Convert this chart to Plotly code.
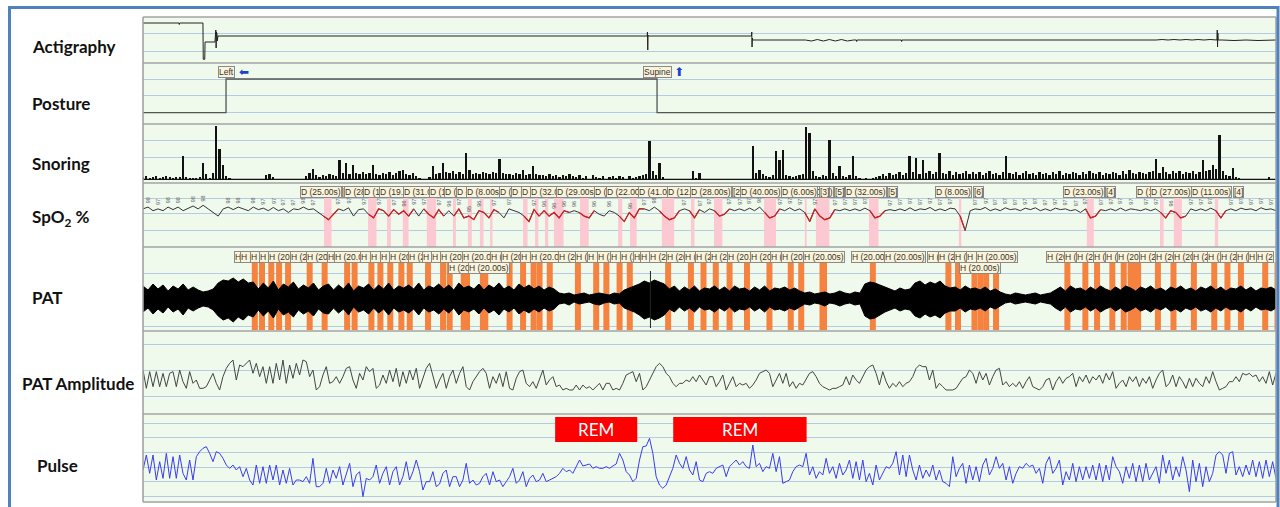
import numpy as np
import plotly.graph_objects as go

DURATION = 3780.0  # length of the displayed window, seconds

# ---------------- Actigraphy (activity level) ----------------
act_t = [0, 120, 121, 122, 200, 201, 206, 207, 240, 243, 244, 245, 246, 247, 248, 250,
         1682, 1683, 1684, 1685, 1686, 2030, 2031, 2032, 2033, 2034, 2210, 2230, 2250, 2270,
         2290, 2310, 2330, 2350, 2370, 2380, 2381, 2382, 2530, 2531, 2532, 3380, 3400, 3420,
         3440, 3460, 3480, 3500, 3520, 3540, 3560, 3583, 3584, 3585, 3586, 3587, 3600, 3640,
         3680, 3720, 3780]
act_v = [40, 40, 38.5, 40, 40, 3.7, 3.7, 21, 21, 33, 15, 31, 17, 29, 22, 27,
         27, 31, 13, 28, 27, 27, 31, 16, 25, 23, 23, 22, 23.5, 22,
         23.5, 22, 23.5, 22, 23, 23, 21.5, 23, 23, 21.5, 23, 23, 23.5, 23,
         23.5, 23, 23.5, 23, 23.5, 23, 23.5, 23, 33, 16, 30, 23, 23, 22.5,
         23, 22.5, 23]

# ---------------- Posture ----------------
posture_t = [0, 277, 1715]
posture_v = [1, 3, 1]
posture_label_t = [277, 1715]
posture_label = ["Left", "Supine"]
posture_arrow = ["\u2b05", "\u2b06"]

# ---------------- Snoring (intensity, sampled evenly over the window) ----------------
snore = [2, 3, 1, 2, 3, 1, 2, 3, 2, 1,
         2, 2, 23, 2, 1, 1, 1, 2, 16, 5,
         1, 6, 53, 30, 14, 3, 1, 0, 0, 0,
         0, 0, 0, 0, 0, 0, 0, 4, 5, 2,
         0, 0, 0, 0, 0, 0, 0, 0, 0, 3,
         6, 10, 4, 2, 4, 3, 5, 4, 3, 19,
         6, 16, 5, 14, 6, 5, 7, 5, 6, 14,
         5, 4, 6, 5, 7, 4, 6, 8, 9, 5,
         4, 6, 3, 1, 0, 0, 2, 13, 5, 6,
         16, 7, 6, 8, 5, 7, 5, 26, 9, 5,
         6, 5, 7, 6, 5, 7, 6, 20, 6, 5,
         5, 4, 6, 5, 9, 4, 5, 13, 5, 4,
         4, 3, 5, 3, 4, 2, 4, 3, 5, 3,
         2, 4, 1, 3, 0, 4, 2, 1, 3, 0,
         2, 3, 1, 3, 2, 0, 3, 1, 2, 3,
         4, 5, 38, 8, 4, 16, 2, 0, 0, 0,
         0, 0, 0, 0, 0, 8, 1, 6, 0, 0,
         0, 0, 0, 0, 0, 0, 0, 0, 0, 0,
         0, 0, 0, 33, 6, 9, 5, 3, 2, 4,
         28, 19, 29, 4, 3, 2, 3, 4, 5, 52,
         46, 8, 3, 2, 4, 3, 39, 6, 3, 13,
         3, 2, 4, 23, 3, 1, 0, 1, 0, 1,
         2, 3, 5, 3, 6, 4, 5, 7, 4, 6,
         23, 7, 21, 5, 19, 6, 8, 5, 7, 26,
         6, 5, 8, 4, 7, 5, 6, 8, 5, 7,
         5, 7, 4, 6, 8, 5, 6, 4, 7, 23,
         6, 5, 7, 4, 6, 8, 5, 6, 4, 7,
         5, 6, 4, 7, 5, 8, 4, 6, 5, 7,
         6, 4, 7, 5, 8, 6, 5, 7, 4, 6,
         5, 7, 6, 4, 8, 5, 9, 6, 5, 7,
         6, 5, 7, 8, 20, 6, 12, 7, 5, 8,
         6, 8, 5, 7, 6, 8, 5, 7, 19, 8,
         9, 14, 10, 44, 8, 4, 3, 11, 2, 1,
         0, 0, 0, 0, 0, 0, 0, 0, 2, 0, 0]

# ---------------- SpO2 (%) ----------------
spo2 = [97, 97.5, 96.5, 97, 96.5, 97.5, 96.8, 97.5, 96.5, 97.2,
        97.8, 97, 98, 97, 96, 95, 97, 97.5, 96.8, 97.5,
        97, 96.5, 97.5, 96.8, 97.2, 96.5, 97.4, 96.5, 97, 96,
        97, 96.8, 97.5, 96.8, 97, 96, 95, 94, 95.5, 97,
        96.5, 97.3, 95, 96.8, 97, 95.5, 94.5, 97, 96.5, 95,
        96.8, 95.5, 96.5, 95, 97, 95, 97, 95.5, 94.5, 96.8,
        95, 96.5, 95, 97, 94.5, 95, 94, 96.5, 96, 94.5,
        96.8, 96, 94.5, 97, 96.5, 96, 95, 93.5, 96.8, 95,
        96.5, 95, 96, 94.5, 96.5, 96, 96.5, 96, 95, 94.5,
        96.5, 95.5, 95, 96.5, 96, 95, 93.5, 96, 94.5, 97,
        97, 96.5, 97.5, 96.5, 95, 94, 94.5, 96.5, 97, 96.5,
        94.5, 96.8, 96, 97, 96.5, 95, 95.5, 97, 96.5, 97,
        96.5, 97.2, 96.5, 97.5, 96, 94.5, 95, 97, 96.5, 97.3,
        96.5, 97, 96, 93.5, 97, 95, 94, 94.5, 96.8, 96.5,
        97, 96.5, 97, 96.5, 97.2, 96.5, 94.5, 95, 96.5, 96.8,
        96.5, 97, 96.5, 97.3, 96.5, 97, 96.8, 97.4, 96.5, 97,
        96.5, 97.2, 97, 95, 91, 96.5, 97, 96.8, 97.4, 96.5,
        97, 96.5, 97.3, 96.8, 97, 96.5, 97.2, 96.8, 97.3, 96.5,
        97, 96.5, 97.2, 96.8, 97, 96.5, 96.8, 96, 97, 94.5,
        95, 96.8, 96.5, 97, 96.5, 97.2, 96.5, 97, 96.8, 96.5,
        97, 96.5, 97, 96, 94.5, 96.5, 96, 94.5, 95, 97,
        96.5, 97, 96.5, 97.2, 96.5, 94.5, 96.5, 97, 96.5, 97.2,
        96.8, 97, 96.5, 97.3, 96.8, 97, 96.5]

# desaturation events, listed in the order their labels are drawn
desat_start = [604, 751, 814, 867, 947, 1034, 1084, 1124, 1158, 1268, 1308, 1341, 1371, 1458,
               1585, 1625, 1731, 1828, 1905, 2072, 2245, 2208, 2422, 2722, 3149, 3393, 3439, 3576]
desat_dur = [25, 28, 13, 19, 31, 10, 13, 12, 8, 15, 11, 11, 32, 29,
             14, 22, 41, 12, 28, 40, 45, 6, 32, 8, 23, 12, 27, 11]
desat_drop = [3, 3, 3, 3, 4, 3, 3, 3, 3, 3, 3, 3, 4, 4,
              3, 4, 5, 3, 2, 5, 5, 3, 5, 6, 4, 4, 4, 4]

# ---------------- PAT signal envelope ----------------
pat_hi = [12, 8, 14, 9, 13, 7, 12, 9, 14, 8, 11, 8, 6, 7, 9,
          15, 18, 17, 20, 16, 19, 15,
          16, 9, 15, 10, 17, 8, 14, 11, 16, 9, 13, 10, 15, 8, 12,
          14, 8, 13, 9, 15, 7, 12, 10, 14, 8, 13, 9, 15, 8, 12, 10,
          13, 9, 15, 8, 12, 10, 14, 9, 13, 8, 15, 10, 12, 9, 14, 8, 13, 10, 15, 9, 12, 8, 14, 10, 13, 9, 12, 8, 11, 9,
          5, 4, 5, 3, 4, 5, 3, 4, 5, 4, 3, 5, 4,
          8, 10, 12, 14,
          17, 15, 18, 16, 14,
          9, 12, 7, 11, 8, 12, 7, 10, 9, 12, 8, 11, 7, 12, 9, 10, 7, 11, 8, 12, 7, 10, 9, 11, 8, 10, 7,
          5, 6, 4, 5, 6, 4, 5, 7, 5, 4, 6, 5,
          14, 16, 15, 13, 11,
          9, 7, 10, 8, 9,
          15, 17, 13, 16, 14, 17, 12, 10,
          11, 8, 12, 9, 10, 8, 11, 7, 9, 6,
          4, 3, 5, 4, 3, 4, 5, 3, 4, 5,
          8, 11, 7, 12, 9, 10, 7, 11, 8, 12, 9, 7, 11, 8, 12, 10, 7, 11, 9, 12, 8, 10, 7, 11, 9, 12, 8, 10, 7, 11,
          9, 12, 8, 11, 7, 10, 9, 12, 8, 11, 7, 10, 9, 11, 8]
pat_lo = [-14, -10, -16, -11, -15, -9, -14, -11, -17, -10, -13, -10, -8, -9, -12,
          -18, -22, -20, -24, -19, -22, -17,
          -19, -12, -18, -13, -20, -11, -17, -14, -19, -12, -16, -13, -18, -11, -15,
          -16, -10, -15, -11, -17, -9, -14, -12, -16, -10, -15, -11, -17, -10, -14, -12,
          -15, -11, -17, -10, -14, -12, -16, -11, -15, -10, -17, -12, -14, -11, -16, -10, -15, -12, -17, -11, -14, -10, -16, -12, -15, -11, -14, -10, -13, -11,
          -6, -5, -7, -4, -6, -5, -4, -6, -7, -5, -4, -6, -5,
          -10, -12, -14, -17,
          -21, -19, -22, -20, -17,
          -11, -14, -9, -13, -10, -14, -9, -12, -11, -14, -10, -13, -9, -14, -11, -12, -9, -13, -10, -14, -9, -12, -11, -13, -10, -12, -9,
          -6, -7, -5, -6, -8, -5, -6, -8, -6, -5, -7, -6,
          -18, -21, -20, -17, -14,
          -12, -10, -13, -11, -12,
          -18, -20, -16, -19, -17, -20, -15, -13,
          -13, -10, -14, -11, -12, -10, -13, -9, -11, -8,
          -5, -4, -6, -5, -4, -5, -6, -4, -5, -6,
          -10, -13, -9, -14, -11, -12, -9, -13, -10, -14, -11, -9, -13, -10, -14, -12, -9, -13, -11, -14, -10, -12, -9, -13, -11, -14, -10, -12, -9, -13,
          -11, -14, -10, -13, -9, -12, -11, -14, -10, -13, -9, -12, -11, -13, -10]
pat_artifact_t = [1693]

# hypopnea events (20 s each) and their label anchors
HYP_DUR = 20.0
hyp_start = [363, 387, 418, 444, 474, 546, 596, 671, 696, 752, 782, 815, 852, 880, 941, 991, 1013,
             1060, 1071, 1124, 1132, 1213, 1258, 1293, 1313, 1347, 1441, 1502, 1536, 1580, 1614,
             1742, 1818, 1860, 1901, 1947, 2005, 2080, 2151, 2186, 2257, 2262, 2425, 2677, 2709,
             2764, 2784, 2803, 2836, 3074, 3134, 3173, 3224, 3262, 3285, 3297, 3310, 3376, 3428,
             3496, 3564, 3608, 3653, 3734, 3775]
hyp_label_t = [304, 324, 357, 387, 416, 490, 543, 613, 637, 724, 757, 791, 821, 883, 930, 961, 991,
               1063, 1158, 1193, 1258, 1291, 1385, 1441, 1480, 1514, 1558, 1591, 1636, 1658, 1688,
               1746, 1805, 1841, 1890, 1947, 2026, 2091, 2128, 2203, 2363, 2471, 2615, 2652, 2707,
               2745, 2779, 3012, 3074, 3112, 3169, 3210, 3251, 3322, 3376, 3435, 3499, 3550, 3592,
               3646, 3686, 3714]
hyp_label_t2 = [1018, 1085, 2724]

# ---------------- PAT amplitude ----------------
pat_amp = [82, 71, 81, 72, 81, 72, 80, 72, 80, 81, 72, 82, 75, 71, 81, 74, 76, 71, 71, 72,
           76, 80, 74, 70, 78, 83, 86, 88, 76, 85, 84, 86, 88, 80, 86, 78, 84, 74, 84, 74,
           86, 76, 88, 74, 85, 77, 86, 79, 88, 87, 78, 82, 70, 72, 79, 84, 74, 75, 78, 74,
           78, 83, 84, 76, 71, 80, 76, 84, 81, 83, 71, 73, 79, 74, 82, 75, 83, 72, 81, 74,
           82, 76, 83, 71, 77, 83, 86,
           78, 71, 76, 80, 71, 78, 82, 74, 80, 84, 72, 70, 75, 78, 81, 83, 80, 71, 78, 74,
           80, 72, 81, 71, 70, 77, 81, 82, 74, 72, 75, 71, 77, 82, 73, 76, 78, 72, 73, 70,
           71, 70, 70, 73, 70, 73, 71, 72, 70, 72, 74, 70, 74, 74, 70, 71, 70, 74, 79, 80,
           81, 75, 80, 70, 72, 76, 80, 84, 86, 84, 80, 78, 74, 72, 74, 74, 76, 75, 78, 75,
           79, 76, 73, 78,
           78, 72, 75, 79, 70, 74, 78, 72, 74, 73, 74, 71, 73, 76, 80, 81, 82, 80, 72, 76,
           80, 74, 80, 72, 75, 71, 74, 73, 77, 80, 81, 78, 74, 72, 71, 70, 71, 71, 72, 73,
           78, 73, 79, 76, 74, 78, 82, 84, 85, 80, 73, 81, 75, 71, 74, 72, 75, 72, 74, 75,
           78, 83, 85, 84, 84, 76, 82, 71, 74, 72, 70, 70, 70, 71, 74, 77, 78, 82, 80, 74,
           81, 76, 80, 73, 78, 82, 83,
           73, 75, 72, 74, 72, 75, 71, 75, 78, 72, 71, 70, 72, 76, 77, 70, 75, 78, 74, 77,
           78, 80, 72, 78, 75, 79, 74, 78, 76, 79, 74, 80, 76, 81, 71, 74, 76, 72, 78, 75,
           78, 72, 77, 74, 78, 71, 76, 80, 82, 72, 74, 79, 72, 78, 75, 71, 77, 72, 77, 74,
           72, 78, 74, 81, 75, 70, 71, 72, 75, 75, 78, 75, 80, 79, 80, 78, 79, 75, 78, 74,
           81, 73, 80]

# ---------------- Pulse (bpm) ----------------
pulse = [61, 65.5, 60, 65.5, 58, 63.5, 58.5, 66, 58.5, 65, 58.5, 65.5, 60, 58, 64, 58, 65, 66.5, 67.5, 68,
         66, 63.5, 66.5, 66, 64.5, 62.5, 61.5, 62.5, 61, 62, 59, 61.5, 58, 56.5, 62.5, 57, 62, 57, 62.5, 58,
         62.5, 56.5, 61, 57, 61.5, 56.5, 58, 58, 57.5, 59, 57, 64.5, 56, 56, 57, 61.5, 57, 61, 58.5, 62,
         56.5, 60, 63, 56, 59.5, 60.5, 53, 58.5, 58, 59, 62.5, 57, 60, 62, 56.5, 60.5, 62, 56.5, 59, 63.5,
         58, 60.5, 64, 60.5, 55, 57.5, 57.5,
         60.5, 56, 56.8, 60, 61, 56, 59, 59, 56, 58, 63, 57, 58, 56.5, 57, 59, 60, 56.5, 60.5, 57.5,
         58, 56, 57.5, 59, 61.5, 57, 58, 60.5, 56, 58.5, 59.5, 57.5, 58, 60, 57.5, 58, 58.5, 59, 60, 61.5,
         60.5, 61, 60, 62, 64, 62.2, 62.5, 62.8, 61.5, 62, 61.5, 61.5, 62, 61.5, 62.2, 62.8, 66, 64, 60.5, 59.5,
         57.5, 58.5, 64, 68, 68.2, 70.5, 66, 59, 56.5, 55.5, 56.5, 59, 61.5, 65.5, 63, 61.5, 65, 61, 59.5, 63.5,
         58, 57.5, 60, 60.5,
         60, 61.5, 62, 62.5, 59, 62, 63, 64, 62.5, 63.5, 62, 61.5, 68.5, 62, 63, 60.5, 62, 61.5, 66, 60.5,
         65, 57, 57.5, 58, 60.5, 62, 62.5, 62, 66, 59.5, 62, 58.5, 60.5, 59.5, 64.5, 60, 62, 58.5, 63, 59.5,
         61, 64, 58.5, 63.5, 58, 64, 57.5, 60, 56.5, 62.5, 58, 60, 62, 61.5, 63, 66.5, 59.5, 65.5, 59, 65.5,
         61, 58, 62.5, 58.5, 61, 59, 62.5, 58, 61, 57.5, 57, 56, 65, 59, 61.5, 63, 57, 62.5, 58, 62,
         57.5, 62.5, 64.5, 59.5, 61.5, 65, 61.5,
         63, 58, 62, 57, 60, 62, 61.5, 63, 62, 62.5, 60, 61.5, 57, 63, 65, 60, 61.5, 64, 56.5, 60.5,
         58, 63, 57.5, 62, 58, 62, 58.5, 62.5, 58, 63, 57.5, 62.5, 58, 65, 62, 60.5, 57, 62, 58.5, 63,
         57.5, 62.5, 57.5, 63, 58, 60, 62, 57, 65.5, 60, 64, 58, 62, 59, 65, 61, 54.5, 64, 57.5, 63,
         56, 62, 57.5, 60, 65.5, 66.5, 65.5, 60, 66, 66.5, 59.5, 62, 59, 62.5, 59.5, 64, 59, 63.5, 58.5, 64,
         59, 63.5, 58.5]

# REM periods (s)
rem_start = [1375, 1769]
rem_end = [1649, 2214]

panel_names = ["Actigraphy", "Posture", "Snoring", "SpO<sub>2</sub> %", "PAT", "PAT Amplitude", "Pulse"]
panel_label_px = [(30, 46), (30, 103), (30, 163), (30, 218), (30, 298), (20, 383), (35, 465)]

# ---------------- page geometry ----------------
W, HGT = 1280, 507
ML, MR, MT, MB = 143, 4, 17, 5
PW = W - ML - MR
PH = HGT - MT - MB
SEC_PER_PX = DURATION / PW
edges = [17, 63, 124, 183, 247, 331, 414, 502]


def paper_y(px):
    return (HGT - MB - px) / PH


def paper_x(px):
    return (px - ML) / PW


def time_to_px(t):
    return ML + t / SEC_PER_PX


domains = [[paper_y(edges[i + 1]), paper_y(edges[i])] for i in range(7)]
ranges = [[0, 46], [0.33, 3.95], [-3.7, 55.3], [86.4, 104.2], [-33, 51], [55.6, 105.4], [51.4, 77.8]]
grids = [[11.3, 29.7], [1, 2, 3], [21.6, 39.3], [91.1, 95.8, 100], [-28, 25],
         [66.4, 82, 97.6], [53.2, 57.5, 61.7, 66.3, 70.7, 75]]

BG = "#effaec"
GRID = "#b5cbe3"
BORDER = "#a3a3a3"
LABEL_BG = "#fbf4d8"
LABEL_BORDER = "#8a8a8a"
SMALL_FONT = dict(family="Liberation Sans", size=8.5, color="#333333")

fig = go.Figure()

# actigraphy
fig.add_trace(go.Scatter(x=act_t, y=act_v, mode="lines", line=dict(color="#222222", width=1),
                         xaxis="x", yaxis="y"))

# posture
fig.add_trace(go.Scatter(x=posture_t + [DURATION], y=posture_v + [posture_v[-1]], mode="lines",
                         line=dict(color="#555555", width=1.3, shape="hv"), xaxis="x", yaxis="y2"))

# snoring: thin bars on a black baseline
t_snore = np.linspace(0, DURATION, len(snore))
fig.add_trace(go.Bar(x=t_snore, y=snore, width=SEC_PER_PX * 2.3, marker=dict(color="#111111", line=dict(width=0)),
                     xaxis="x", yaxis="y3"))
fig.add_trace(go.Scatter(x=[0, DURATION], y=[0, 0], mode="lines", line=dict(color="#111111", width=1.2),
                         xaxis="x", yaxis="y3"))

# SpO2 with desaturated stretches in red
t_spo2 = np.linspace(0, DURATION, len(spo2))
red_mask = np.zeros(len(spo2), dtype=bool)
for s, d in zip(desat_start, desat_dur):
    red_mask |= (t_spo2 >= s - 12) & (t_spo2 <= s + d + 12)
red_mask = red_mask | np.roll(red_mask, 1)
spo2_red = [v if m else None for v, m in zip(spo2, red_mask)]
fig.add_trace(go.Scatter(x=t_spo2, y=spo2, mode="lines", line=dict(color="#333333", width=1),
                         xaxis="x", yaxis="y4"))
fig.add_trace(go.Scatter(x=t_spo2, y=spo2_red, mode="lines", connectgaps=False,
                         line=dict(color="#cc2222", width=1.3), xaxis="x", yaxis="y4"))

# PAT envelope
t_pat = np.linspace(0, DURATION, len(pat_hi))
fig.add_trace(go.Scatter(x=np.linspace(0, DURATION, len(pat_lo)), y=pat_lo, mode="lines",
                         line=dict(color="black", width=1), xaxis="x", yaxis="y5"))
fig.add_trace(go.Scatter(x=t_pat, y=pat_hi, mode="lines", fill="tonexty", fillcolor="black",
                         line=dict(color="black", width=1), xaxis="x", yaxis="y5"))
for ta in pat_artifact_t:
    fig.add_trace(go.Scatter(x=[ta, ta], y=[-30, 27], mode="lines", line=dict(color="#222", width=1),
                             xaxis="x", yaxis="y5"))

# PAT amplitude
fig.add_trace(go.Scatter(x=np.linspace(0, DURATION, len(pat_amp)), y=pat_amp, mode="lines",
                         line=dict(color="#444444", width=1), xaxis="x", yaxis="y6"))

# pulse
fig.add_trace(go.Scatter(x=np.linspace(0, DURATION, len(pulse)), y=pulse, mode="lines",
                         line=dict(color="#3b3bf0", width=1), xaxis="x", yaxis="y7"))

shapes = []
# desaturation bands
for s, d in zip(desat_start, desat_dur):
    shapes.append(dict(type="rect", xref="x", yref="y4", x0=s, x1=s + d, y0=ranges[3][0], y1=100.3,
                       fillcolor="#fcc8d1", line=dict(width=0), layer="between"))
# hypopnea bars
for s in hyp_start:
    shapes.append(dict(type="rect", xref="x", yref="y5", x0=s, x1=s + HYP_DUR, y0=-32, y1=36,
                       fillcolor="#f5823f", line=dict(width=0), layer="between"))
# REM boxes
for s, e in zip(rem_start, rem_end):
    shapes.append(dict(type="rect", xref="x", yref="y7", x0=s, x1=e, y0=69.4, y1=76.9,
                       fillcolor="#ff0000", line=dict(width=0), layer="above"))
# panel separators and plot frame
for px in edges:
    shapes.append(dict(type="line", xref="paper", yref="paper", x0=0, x1=1, y0=paper_y(px), y1=paper_y(px),
                       line=dict(color=BORDER, width=1.6)))
for xp in (0, 1):
    shapes.append(dict(type="line", xref="paper", yref="paper", x0=xp, x1=xp, y0=0, y1=1,
                       line=dict(color=BORDER, width=1.6)))
# outer blue frame
shapes.append(dict(type="rect", xref="paper", yref="paper", x0=paper_x(9.5), x1=paper_x(1278),
                   y0=paper_y(514), y1=paper_y(7.5), line=dict(color="#4f81bd", width=3),
                   fillcolor="rgba(0,0,0,0)"))

annotations = []
for name, (lx, ly) in zip(panel_names, panel_label_px):
    annotations.append(dict(text=name, xref="paper", yref="paper", x=paper_x(lx), y=paper_y(ly),
                            xanchor="left", yanchor="middle", showarrow=False,
                            font=dict(family="Lato", size=17, color="#111111", weight="bold")))


def text_px(text):
    # approximate rendered box width of a small label
    return 4.0 * len(text) + 2


def box_label(text, x, y, yref, xanchor="left"):
    ann = dict(text=text, x=x, y=y, xref="x", yref=yref, xanchor=xanchor, yanchor="middle",
               showarrow=False, font=SMALL_FONT, bgcolor=LABEL_BG, bordercolor=LABEL_BORDER,
               borderwidth=1, borderpad=0)
    room = ML + PW - time_to_px(x) - 2
    if xanchor == "left" and room < text_px(text):
        ann["width"] = max(room - 2, 4)
        ann["align"] = "left"
    return ann


# posture change labels
for t, txt, arr in zip(posture_label_t, posture_label, posture_arrow):
    annotations.append(box_label(txt, t, 3.39, "y2", "center"))
    annotations.append(dict(text=arr, x=t, y=3.39, xref="x", yref="y2", xanchor="left", yanchor="middle",
                            xshift=text_px(txt) / 2 + 2, showarrow=False,
                            font=dict(family="DejaVu Sans", size=12, color="#1f3fcf")))

# SpO2 value tags above local maxima of the trace
for i in range(1, len(spo2) - 1):
    if spo2[i] >= spo2[i - 1] and spo2[i] > spo2[i + 1]:
        annotations.append(dict(text=f"{int(round(spo2[i]))}", x=t_spo2[i], y=spo2[i] + 1.9, xref="x", yref="y4",
                                showarrow=False, textangle=-90, xanchor="center", yanchor="middle",
                                font=dict(family="Liberation Sans", size=5.5, color="#666666")))

# desaturation labels
for s, d, drop in zip(desat_start, desat_dur, desat_drop):
    txt = f"D ({d:.2f}s)"
    left = s - 80
    annotations.append(box_label(txt, left, 101.7, "y4"))
    annotations.append(box_label(f"[{drop}]", left + text_px(txt) * SEC_PER_PX, 101.7, "y4"))

# hypopnea labels
hyp_txt = f"H ({HYP_DUR:.2f}s)"
for t in hyp_label_t:
    annotations.append(box_label(hyp_txt, t, 41.3, "y5"))
for t in hyp_label_t2:
    annotations.append(box_label(hyp_txt, t, 29.7, "y5"))

# REM captions
for s, e in zip(rem_start, rem_end):
    annotations.append(dict(text="REM", x=(s + e) / 2, y=73.15, xref="x", yref="y7", showarrow=False,
                            xanchor="center", yanchor="middle",
                            font=dict(family="Lato", size=17, color="white")))

layout = dict(
    width=W, height=HGT,
    margin=dict(l=ML, r=MR, t=MT, b=MB),
    paper_bgcolor="white", plot_bgcolor=BG,
    showlegend=False, bargap=0,
    xaxis=dict(range=[0, DURATION], showgrid=False, zeroline=False, showticklabels=False,
               ticks="", anchor="y7", fixedrange=True),
    shapes=shapes, annotations=annotations,
)
for i in range(7):
    key = "yaxis" if i == 0 else f"yaxis{i + 1}"
    layout[key] = dict(domain=domains[i], range=ranges[i], anchor="x", tickvals=grids[i],
                       showticklabels=False, ticks="", showgrid=True, gridcolor=GRID, gridwidth=1,
                       zeroline=False, fixedrange=True)

fig.update_layout(**layout)
fig.write_html("out.html", config={"displayModeBar": False})
